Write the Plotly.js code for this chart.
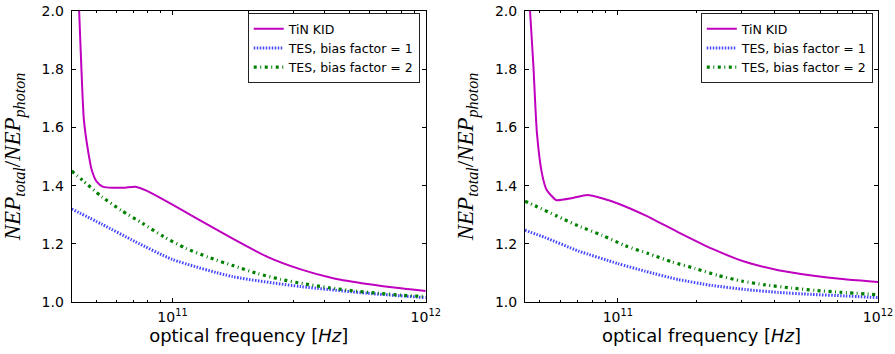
<!DOCTYPE html>
<html>
<head>
<meta charset="utf-8">
<script src="https://cdn.plot.ly/plotly-3.0.1.min.js"></script>
<style>html,body{margin:0;padding:0;background:#fff;}#chart{width:895px;height:354px;}</style>
</head>
<body>
<div id="chart"></div>
<script>
// ---------- data ----------
const seriesNames = ["TiN KID", "TES, bias factor = 1", "TES, bias factor = 2"];

// Left panel
const leftKidFreq = [4.0e10, 4.12e10, 4.28e10, 4.37e10, 4.47e10, 4.66e10, 4.80e10, 5.02e10, 5.33e10, 5.85e10, 6.5e10, 7.13e10, 7.93e10, 9.8e10, 1.21e11, 1.75e11, 2.37e11, 3.21e11, 4.35e11, 5.89e11, 7.98e11, 1e12];
const leftKidVal  = [2.6, 2.3, 2.0, 1.8, 1.625, 1.511, 1.454, 1.414, 1.396, 1.393, 1.393, 1.396, 1.382, 1.339, 1.294, 1.216, 1.156, 1.113, 1.082, 1.063, 1.048, 1.039];
const leftTes1Freq = [4.0e10, 5.26e10, 7.13e10, 1e11, 1.73e11, 3.21e11, 5.89e11, 1e12];
const leftTes1Val  = [1.32, 1.268, 1.208, 1.147, 1.088, 1.054, 1.031, 1.016];
const leftTes2Freq = [4.0e10, 4.41e10, 5.26e10, 6.31e10, 7.62e10, 9.23e10, 1.13e11, 1.39e11, 1.73e11, 2.16e11, 2.67e11, 3.33e11, 4.15e11, 5.21e11, 6.52e11, 8.11e11, 1e12];
const leftTes2Val  = [1.45, 1.419, 1.362, 1.314, 1.271, 1.225, 1.185, 1.154, 1.126, 1.099, 1.079, 1.063, 1.050, 1.039, 1.031, 1.024, 1.020];

// Right panel
const rightKidFreq = [4.4e10, 4.5e10, 4.60e10, 4.74e10, 4.89e10, 5.11e10, 5.33e10, 5.74e10, 5.83e10, 6.65e10, 7.64e10, 8.69e10, 1e11, 1.27e11, 1.71e11, 2.30e11, 3.08e11, 4.14e11, 5.56e11, 7.46e11, 1e12];
const rightKidVal  = [2.35, 2.15, 2.0, 1.809, 1.58, 1.442, 1.385, 1.353, 1.350, 1.357, 1.368, 1.357, 1.339, 1.299, 1.240, 1.184, 1.139, 1.110, 1.092, 1.079, 1.070];
const rightTes1Freq = [4.4e10, 5.26e10, 7.06e10, 1e11, 1.27e11, 1.71e11, 2.30e11, 3.08e11, 4.14e11, 5.56e11, 7.46e11, 1e12];
const rightTes1Val  = [1.247, 1.222, 1.176, 1.133, 1.107, 1.078, 1.058, 1.044, 1.034, 1.027, 1.022, 1.016];
const rightTes2Freq = [4.4e10, 4.81e10, 5.83e10, 7.06e10, 8.69e10, 1.07e11, 1.31e11, 1.61e11, 1.98e11, 2.43e11, 2.99e11, 3.68e11, 4.66e11, 5.73e11, 7.24e11, 1e12];
const rightTes2Val  = [1.347, 1.331, 1.296, 1.262, 1.230, 1.194, 1.167, 1.139, 1.116, 1.092, 1.073, 1.060, 1.049, 1.041, 1.034, 1.026];

// axis ticks
const xMajorVals = [1e11, 1e12];
const xMajorText = ["10<sup>11</sup>", "10<sup>12</sup>"];
const xMinorVals = [5e10, 6e10, 7e10, 8e10, 9e10, 2e11, 3e11, 4e11, 5e11, 6e11, 7e11, 8e11, 9e11];
const yTickVals = [1.0, 1.2, 1.4, 1.6, 1.8, 2.0];

// ---------- styles ----------
const kidLine  = {color: "#bf00bf", width: 2, shape: "spline", smoothing: 0.6};
const tes1Line = {color: "#4646ff", width: 3, dash: "1.5px,1.5px", shape: "spline", smoothing: 0.6};
const tes2Line = {color: "#008000", width: 3.2, dash: "3px,3.5px,1px,3.5px", shape: "spline", smoothing: 0.6};

function mk(x, y, name, line, xa, ya, lg) {
  return {x: x, y: y, name: name, type: "scatter", mode: "lines", line: line,
          xaxis: xa, yaxis: ya, legend: lg, hoverinfo: "skip"};
}

const data = [
  mk(leftKidFreq, leftKidVal, seriesNames[0], kidLine, "x", "y", "legend"),
  mk(leftTes1Freq, leftTes1Val, seriesNames[1], tes1Line, "x", "y", "legend"),
  mk(leftTes2Freq, leftTes2Val, seriesNames[2], tes2Line, "x", "y", "legend"),
  mk(rightKidFreq, rightKidVal, seriesNames[0], kidLine, "x2", "y2", "legend2"),
  mk(rightTes1Freq, rightTes1Val, seriesNames[1], tes1Line, "x2", "y2", "legend2"),
  mk(rightTes2Freq, rightTes2Val, seriesNames[2], tes2Line, "x2", "y2", "legend2")
];

const tickFont = {family: "DejaVu Sans", size: 14, color: "#000"};
const yTitle = "<i>NEP</i><sub><i>total</i></sub>/<i>NEP</i><sub><i>photon</i></sub>";
const xTitle = "optical frequency [<i>Hz</i>]";

function xAxis(domain, lo, anchor) {
  return {
    type: "log", domain: domain, anchor: anchor, range: [Math.log10(lo), 12],
    tickmode: "array", tickvals: xMajorVals, ticktext: xMajorText,
    ticks: "inside", ticklen: 4, tickwidth: 1, tickcolor: "#000",
    minor: {tickmode: "array", tickvals: xMinorVals, ticks: "inside", ticklen: 2, tickwidth: 1, tickcolor: "#000", showgrid: false},
    showline: true, linecolor: "#000", linewidth: 1, mirror: "allticks",
    showgrid: false, zeroline: false, tickfont: tickFont, ticklabelstandoff: 2,
    title: {text: xTitle, font: {family: "DejaVu Sans", size: 18, color: "#000"}, standoff: 5}
  };
}
function yAxis(anchor) {
  return {
    domain: [0.146, 0.9698], anchor: anchor, range: [1.0, 2.0],
    tickmode: "array", tickvals: yTickVals, tickformat: ".1f",
    ticks: "inside", ticklen: 4, tickwidth: 1, tickcolor: "#000",
    showline: true, linecolor: "#000", linewidth: 1, mirror: "allticks",
    showgrid: false, zeroline: false, tickfont: tickFont, ticklabelstandoff: 4,
    title: {text: yTitle, font: {family: "Liberation Serif", size: 23, color: "#000"}, standoff: 14}
  };
}

const legendStyle = {
  font: {family: "DejaVu Sans", size: 12.5, color: "#000"},
  bgcolor: "#fff", bordercolor: "#222", borderwidth: 1,
  xref: "paper", yref: "paper", xanchor: "left", yanchor: "top", y: 0.963,
  tracegroupgap: 0
};

const layout = {
  width: 895, height: 354,
  margin: {l: 0, r: 0, t: 0, b: 0},
  paper_bgcolor: "#fff", plot_bgcolor: "#fff",
  showlegend: true,
  xaxis: xAxis([0.0801, 0.4757], 4.0e10, "y"),
  yaxis: yAxis("x"),
  xaxis2: xAxis([0.5866, 0.981], 4.4e10, "y2"),
  yaxis2: yAxis("x2"),
  legend: Object.assign({}, legendStyle, {x: 0.2768}),
  legend2: Object.assign({}, legendStyle, {x: 0.783})
};

Plotly.newPlot("chart", data, layout, {staticPlot: true, displayModeBar: false});
</script>
</body>
</html>
